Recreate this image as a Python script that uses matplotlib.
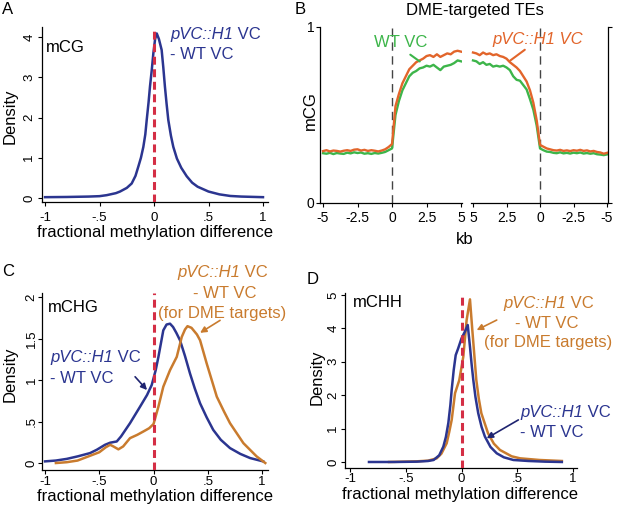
import matplotlib.pyplot as plt
import numpy as np

plt.rcParams["font.family"] = ["Liberation Sans", "DejaVu Sans"]

BLUE = "#2B3590"
RED = "#D42E45"
ORANGE = "#C97B2E"
B_ORANGE = "#E2652B"
B_GREEN = "#3DB54A"

# Panel A: mCG density (pVC::H1 VC - WT VC)
a_x = [-1.0, -0.8, -0.6, -0.5, -0.434, -0.35, -0.312, -0.25, -0.205, -0.17, -0.144,
       -0.12, -0.098, -0.08, -0.067, -0.05, -0.037, -0.02, -0.006, 0.01, 0.025, 0.045,
       0.07, 0.085, 0.1, 0.115, 0.131, 0.155, 0.177, 0.21, 0.25, 0.3, 0.35, 0.4, 0.5,
       0.6, 0.7, 0.8, 1.0]
a_y = [0.02, 0.025, 0.035, 0.045, 0.07, 0.12, 0.16, 0.25, 0.36, 0.55, 0.78,
       1.0, 1.27, 1.58, 1.94, 2.38, 2.77, 3.2, 3.6, 3.95, 4.09, 3.95,
       3.68, 3.25, 2.77, 2.35, 1.94, 1.55, 1.27, 0.98, 0.75, 0.54, 0.38, 0.28, 0.16,
       0.09, 0.05, 0.035, 0.02]

# Panel B: mCG around DME-targeted TEs (kb)
b_left_kb = [-5.0, -4.75, -4.5, -4.25, -4.0, -3.75, -3.5, -3.25, -3.0, -2.75, -2.5,
             -2.25, -2.0, -1.75, -1.5, -1.25, -1.0, -0.75, -0.5, -0.25, 0.0,
             0.25, 0.5, 0.75, 1.0, 1.25, 1.5, 1.75, 2.0, 2.25, 2.5,
             2.75, 3.0, 3.25, 3.5, 3.75, 4.0, 4.25, 4.5, 4.75, 5.0]
b_left_h1 = [0.295, 0.300, 0.293, 0.298, 0.296, 0.292, 0.297, 0.300, 0.296, 0.303, 0.305,
             0.298, 0.302, 0.296, 0.300, 0.297, 0.293, 0.298, 0.305, 0.318, 0.335,
             0.55, 0.62, 0.68, 0.72, 0.76, 0.78, 0.80, 0.81, 0.82, 0.835,
             0.84, 0.83, 0.845, 0.83, 0.84, 0.85, 0.845, 0.86, 0.865, 0.86]
b_left_wt = [0.283, 0.280, 0.285, 0.278, 0.284, 0.281, 0.279, 0.286, 0.282, 0.288, 0.284,
             0.287, 0.280, 0.283, 0.279, 0.284, 0.281, 0.285, 0.290, 0.300, 0.310,
             0.50, 0.58, 0.64, 0.68, 0.72, 0.74, 0.75, 0.765, 0.77, 0.78,
             0.775, 0.785, 0.77, 0.755, 0.775, 0.78, 0.785, 0.795, 0.81, 0.805]
b_right_kb = [5.0, 4.75, 4.5, 4.25, 4.0, 3.75, 3.5, 3.25, 3.0, 2.75, 2.5,
              2.25, 2.0, 1.75, 1.5, 1.25, 1.0, 0.75, 0.5, 0.25, 0.0,
              -0.25, -0.5, -0.75, -1.0, -1.25, -1.5, -1.75, -2.0, -2.25, -2.5,
              -2.75, -3.0, -3.25, -3.5, -3.75, -4.0, -4.25, -4.5, -4.75, -5.0]
b_right_h1 = [0.855, 0.85, 0.84, 0.855, 0.845, 0.85, 0.84, 0.845, 0.835, 0.83, 0.82,
              0.80, 0.785, 0.77, 0.75, 0.72, 0.69, 0.64, 0.57, 0.47, 0.33,
              0.32, 0.31, 0.305, 0.30, 0.298, 0.302, 0.296, 0.299, 0.295, 0.300,
              0.297, 0.302, 0.296, 0.299, 0.293, 0.296, 0.290, 0.287, 0.280, 0.285]
b_right_wt = [0.81, 0.805, 0.79, 0.80, 0.785, 0.79, 0.775, 0.78, 0.775, 0.78, 0.77,
              0.755, 0.72, 0.70, 0.695, 0.67, 0.645, 0.59, 0.53, 0.44, 0.31,
              0.30, 0.292, 0.29, 0.285, 0.283, 0.288, 0.282, 0.285, 0.281, 0.286,
              0.283, 0.287, 0.281, 0.284, 0.280, 0.283, 0.277, 0.275, 0.272, 0.276]

# Panel C: mCHG densities
c_all_x = [-1.0, -0.9, -0.8, -0.7, -0.585, -0.523, -0.447, -0.4, -0.36, -0.339, -0.3,
           -0.217, -0.124, -0.06, -0.017, 0.02, 0.045, 0.09, 0.12, 0.152, 0.18, 0.21,
           0.244, 0.29, 0.336, 0.38, 0.429, 0.49, 0.55, 0.62, 0.705, 0.8, 0.89, 0.95, 1.01]
c_all_y = [0.02, 0.03, 0.05, 0.08, 0.12, 0.16, 0.22, 0.245, 0.255, 0.26, 0.32,
           0.48, 0.68, 0.82, 0.94, 1.12, 1.28, 1.6, 1.67, 1.68, 1.64, 1.57,
           1.48, 1.29, 1.08, 0.9, 0.72, 0.55, 0.4, 0.28, 0.18, 0.11, 0.06, 0.04, 0.02]
c_dme_x = [-0.9, -0.8, -0.7, -0.6, -0.5, -0.44, -0.4, -0.37, -0.324, -0.28, -0.217,
           -0.15, -0.094, -0.04, 0.0, 0.045, 0.09, 0.152, 0.214, 0.26, 0.29, 0.313,
           0.35, 0.4, 0.429, 0.49, 0.583, 0.65, 0.705, 0.828, 0.95, 1.03]
c_dme_y = [0.0, 0.01, 0.03, 0.08, 0.13, 0.19, 0.22, 0.2, 0.165, 0.2, 0.3,
           0.34, 0.38, 0.42, 0.47, 0.68, 0.92, 1.12, 1.28, 1.52, 1.61, 1.65,
           1.63, 1.55, 1.48, 1.2, 0.8, 0.62, 0.48, 0.24, 0.08, 0.0]

# Panel D: mCHH densities
d_all_x = [-0.83, -0.6, -0.4, -0.3, -0.25, -0.2, -0.163, -0.14, -0.118, -0.1, -0.088,
           -0.07, -0.052, -0.03, 0.0, 0.03, 0.056, 0.076, 0.09, 0.106, 0.125, 0.15,
           0.18, 0.21, 0.26, 0.316, 0.38, 0.465, 0.6, 0.75, 0.9]
d_all_y = [0.0, 0.0, 0.01, 0.03, 0.06, 0.2, 0.46, 0.75, 1.17, 1.7, 2.16,
           2.75, 3.2, 3.4, 3.7, 3.9, 4.1, 3.45, 2.95, 2.45, 1.95, 1.46,
           1.05, 0.76, 0.45, 0.26, 0.14, 0.06, 0.03, 0.01, 0.0]
d_dme_x = [-0.65, -0.4, -0.3, -0.222, -0.18, -0.133, -0.11, -0.088, -0.058, -0.02, 0.016,
           0.046, 0.076, 0.097, 0.115, 0.133, 0.155, 0.178, 0.238, 0.29, 0.345, 0.45,
           0.525, 0.7, 0.9]
d_dme_y = [0.0, 0.02, 0.04, 0.11, 0.25, 0.56, 0.9, 1.26, 2.06, 2.45, 3.15,
           4.25, 4.87, 3.95, 3.2, 2.45, 1.9, 1.46, 0.86, 0.55, 0.36, 0.17,
           0.11, 0.06, 0.03]

frac_ticks = [-1, -0.5, 0, 0.5, 1]
frac_labels = ["-1", "-.5", "0", ".5", "1"]

W, H = 617, 507
fig = plt.figure(figsize=(W / 100, H / 100), dpi=100)


def rect(left, top, right, bottom):
    return [left / W, 1 - bottom / H, (right - left) / W, (bottom - top) / H]


def px(x, y):
    return x / W, 1 - y / H


def ftext(x, y, s, **kw):
    kw.setdefault("fontsize", 12)
    return fig.text(*px(x, y), s, **kw)


def h1_label(ax, x, y, color):
    # italic genotype followed by upright " VC"
    t = ftext(x, y, "pVC::H1", color=color, style="italic", ha="left", va="baseline")
    ax.annotate(" VC", xy=(1, 0), xycoords=t, ha="left", va="bottom",
                color=color, fontsize=12, annotation_clip=False)


def density_axes(box, xlim, ylim, yticks, ylabels, xpad, ypad):
    ax = fig.add_axes(rect(*box))
    ax.spines["top"].set_visible(False)
    ax.spines["right"].set_visible(False)
    for s in ("left", "bottom"):
        ax.spines[s].set_linewidth(0.9)
    ax.set_xlim(*xlim)
    ax.set_ylim(*ylim)
    ax.set_xticks(frac_ticks, frac_labels)
    ax.set_yticks(yticks, ylabels)
    ax.tick_params(axis="x", length=3, width=0.8, labelsize=9.5, pad=xpad)
    ax.tick_params(axis="y", length=3, width=0.8, labelsize=9.5, pad=ypad,
                   labelrotation=90)
    plt.setp(ax.get_yticklabels(), va="center")
    ax.axvline(0, color=RED, lw=2.2, ls=(0, (2.6, 1.5)), zorder=3)
    return ax


# ---- A ----
ax_a = density_axes((42, 27, 268, 202), (-1.028, 1.046), (-0.1, 4.25),
                    [0, 1, 2, 3, 4], ["0", "1", "2", "3", "4"], 4.3, 1.8)
ax_a.plot(a_x, a_y, color=BLUE, lw=1.8)
ftext(46, 52, "mCG", va="baseline")
h1_label(ax_a, 170, 39, BLUE)
ftext(170, 59, "- WT VC", color=BLUE, va="baseline")
ftext(10, 116, "Density", rotation=90, ha="center", va="center")
ftext(155, 232, "fractional methylation difference", ha="center", va="center")

# ---- B ----
ax_b1 = fig.add_axes(rect(320, 27, 462, 203))
ax_b2 = fig.add_axes(rect(471, 27, 608, 203))
for ax in (ax_b1, ax_b2):
    ax.spines["top"].set_visible(False)
    ax.set_ylim(0, 1)
    ax.tick_params(length=3, width=0.8, labelsize=10, pad=3)
    ax.axvline(0, color="#444444", lw=1.0, ls=(0, (6, 4)))
    for s in ax.spines.values():
        s.set_linewidth(0.9)
ax_b1.spines["right"].set_visible(False)
ax_b2.spines["left"].set_visible(False)
ax_b1.set_xlim(-5.22, 5.07)
ax_b2.set_xlim(5.15, -5.07)
ax_b1.set_xticks([-5, -2.5, 0, 2.5, 5], ["-5", "-2.5", "0", "2.5", "5"])
ax_b2.set_xticks([5, 2.5, 0, -2.5, -5], ["5", "2.5", "0", "-2.5", "-5"])
ax_b1.set_yticks([0, 1], ["0", "1"])
ax_b1.tick_params(axis="y", pad=1)
ax_b2.yaxis.set_ticks_position("right")
ax_b2.set_yticks([0, 1], ["", ""])

ax_b1.plot(b_left_kb, b_left_wt, color=B_GREEN, lw=1.7)
ax_b1.plot(b_left_kb, b_left_h1, color=B_ORANGE, lw=1.7)
ax_b2.plot(b_right_kb, b_right_wt, color=B_GREEN, lw=1.7)
ax_b2.plot(b_right_kb, b_right_h1, color=B_ORANGE, lw=1.7)

ftext(374, 47, "WT VC", color=B_GREEN, va="baseline")
ftext(492, 44, "pVC::H1 VC", color=B_ORANGE, style="italic", va="baseline")
ax_b1.annotate("", xy=(2.17, 0.795), xytext=(1.16, 0.852),
               arrowprops=dict(arrowstyle="-", color=B_GREEN, lw=1.5))
ax_b2.annotate("", xy=(2.39, 0.80), xytext=(0.97, 0.88),
               arrowprops=dict(arrowstyle="-", color=B_ORANGE, lw=1.5))
ftext(475, 11, "DME-targeted TEs", ha="center", va="center")
ftext(310, 111, "mCG", rotation=90, ha="center", va="center")
ftext(465, 240, "kb", ha="center", va="center")

# ---- C ----
ax_c = density_axes((42, 293, 268, 470), (-1.028, 1.055), (-0.084, 2.05),
                    [0, 0.5, 1, 1.5, 2], ["0", ".5", "1", "1.5", "2"], 1.0, 0.2)
ax_c.plot(c_all_x, c_all_y, color=BLUE, lw=1.8)
ax_c.plot(c_dme_x, c_dme_y, color=ORANGE, lw=1.8)
ftext(48, 312, "mCHG", va="baseline")
h1_label(ax_c, 50, 362, BLUE)
ftext(50, 383, "- WT VC", color=BLUE, va="baseline")
h1_label(ax_c, 177, 277, ORANGE)
ftext(225, 298, "- WT VC", color=ORANGE, ha="center", va="baseline")
ftext(222, 318, "(for DME targets)", color=ORANGE, ha="center", va="baseline")
ax_c.annotate("", xy=(-0.06, 0.88), xytext=(-0.17, 1.04),
              arrowprops=dict(arrowstyle="-|>", color="#1F2470", lw=1.2,
                              mutation_scale=9, shrinkA=0, shrinkB=0))
ax_c.annotate("", xy=(0.429, 1.57), xytext=(0.613, 1.72),
              arrowprops=dict(arrowstyle="-|>", color=ORANGE, lw=1.2,
                              mutation_scale=9, shrinkA=0, shrinkB=0))
ftext(10, 374, "Density", rotation=90, ha="center", va="center")
ftext(155, 496, "fractional methylation difference", ha="center", va="center")

# ---- D ----
ax_d = density_axes((345, 293, 577, 468), (-1.045, 1.036), (-0.18, 5.06),
                    [0, 1, 2, 3, 4, 5], ["0", "1", "2", "3", "4", "5"], 0.8, 1.0)
ax_d.plot(d_dme_x, d_dme_y, color=ORANGE, lw=1.8)
ax_d.plot(d_all_x, d_all_y, color=BLUE, lw=1.8)
ftext(353, 307, "mCHH", va="baseline")
h1_label(ax_d, 503, 308, ORANGE)
ftext(547, 328, "- WT VC", color=ORANGE, ha="center", va="baseline")
ftext(548, 347, "(for DME targets)", color=ORANGE, ha="center", va="baseline")
h1_label(ax_d, 520, 417, BLUE)
ftext(520, 437, "- WT VC", color=BLUE, va="baseline")
ax_d.annotate("", xy=(0.136, 3.95), xytext=(0.316, 4.25),
              arrowprops=dict(arrowstyle="-|>", color=ORANGE, lw=1.2,
                              mutation_scale=9, shrinkA=0, shrinkB=0))
ax_d.annotate("", xy=(0.226, 0.71), xytext=(0.51, 1.26),
              arrowprops=dict(arrowstyle="-|>", color="#1F2470", lw=1.2,
                              mutation_scale=9, shrinkA=0, shrinkB=0))
ftext(317, 377, "Density", rotation=90, ha="center", va="center")
ftext(460, 495, "fractional methylation difference", ha="center", va="center")

# panel letters
ftext(2, 10, "A", fontsize=12, va="center")
ftext(295, 9, "B", fontsize=12, va="center")
ftext(2, 272, "C", fontsize=12, va="center")
ftext(307, 280, "D", fontsize=12, va="center")

fig.savefig("out.png", dpi=100)
